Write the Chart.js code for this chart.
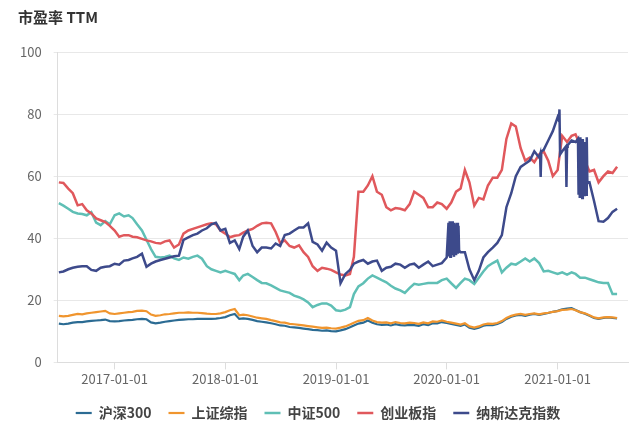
<!DOCTYPE html>
<html lang="zh">
<head>
    <meta charset="UTF-8">
    <title>市盈率 TTM</title>
    <script src="https://cdn.jsdelivr.net/npm/chart.js"></script>
    <style>
        body {
            margin: 0;
            background-color: #fff;
            font-family: "Noto Sans CJK SC", "Noto Sans", sans-serif;
        }
        #wrap {
            position: relative;
            width: 640px;
            height: 433px;
        }
        #title {
            position: absolute;
            left: 18px;
            top: 6px;
            font-size: 15px;
            font-weight: bold;
            color: #333;
        }
        canvas {
            position: absolute;
            left: 0;
            top: 0;
        }
    </style>
</head>
<body>
<div id="wrap">
    <canvas id="peChart" width="640" height="433"></canvas>
    <div id="title">市盈率 TTM</div>
</div>

<script>
// semi-monthly sampling points, 2016-07-01 ... 2021-07-16 (1st and 16th of each month)
var dates = [];
for (var i = 0; i < 122; i++) {
    var m = 6 + Math.floor(i / 2);
    dates.push(Date.UTC(2016 + Math.floor(m / 12), m % 12, i % 2 ? 16 : 1));
}

var labels = ['沪深300', '上证综指', '中证500', '创业板指', '纳斯达克指数'];
var colors = ['#2b6b93', '#f0952e', '#5fbfb5', '#e0585c', '#3d4a8b'];

var hs300 = [
    12.5, 12.3, 12.5, 12.8, 13, 13, 13.2, 13.4, 13.5, 13.6, 13.8, 13.3,
    13.2, 13.3, 13.5, 13.6, 13.7, 13.9, 14, 13.9, 12.9, 12.6, 12.8, 13.1,
    13.3, 13.5, 13.7, 13.8, 13.9, 13.9, 14, 14, 14, 14, 14.1, 14.3,
    14.6, 15.2, 15.6, 14, 14.2, 14, 13.7, 13.3, 13.1, 12.9, 12.6, 12.3,
    11.9, 11.8, 11.4, 11.3, 11.1, 10.9, 10.7, 10.5, 10.4, 10.2, 10.3, 10.1,
    10, 10.3, 10.7, 11.3, 11.9, 12.5, 12.8, 13.5, 12.8, 12.3, 12.1, 12.2,
    11.9, 12.3, 12, 11.9, 12.1, 12, 11.8, 12.3, 12, 12.6, 12.6, 13,
    12.7, 12.4, 12.1, 11.8, 12.2, 11.2, 10.8, 11.2, 11.8, 12.1, 12, 12.4,
    13, 14, 14.7, 15.1, 15.3, 15, 15.4, 15.6, 15.3, 15.6, 15.9, 16.3,
    16.6, 17.1, 17.3, 17.5, 16.9, 16.2, 15.7, 15, 14.3, 14, 14.3, 14.5,
    14.3, 14.2
];

var shComp = [
    15, 14.8, 15, 15.3, 15.6, 15.5, 15.8, 16, 16.2, 16.4, 16.6, 15.8,
    15.6, 15.8, 16, 16.2, 16.3, 16.6, 16.7, 16.5, 15.4, 15, 15.2, 15.5,
    15.6, 15.8, 16, 16, 16.1, 16, 16, 15.9, 15.7, 15.6, 15.6, 15.8,
    16.2, 16.8, 17.2, 15.2, 15.4, 15.2, 14.8, 14.4, 14.2, 14, 13.6, 13.3,
    12.9, 12.8, 12.4, 12.3, 12.1, 11.9, 11.7, 11.5, 11.3, 11.1, 11.2, 11,
    10.9, 11.2, 11.6, 12.2, 12.8, 13.4, 13.6, 14.3, 13.5, 13, 12.8, 12.9,
    12.6, 13, 12.7, 12.6, 12.8, 12.7, 12.4, 12.9, 12.6, 13.2, 13.1, 13.5,
    13.1, 12.8, 12.5, 12.2, 12.6, 11.6, 11.2, 11.6, 12.2, 12.5, 12.4, 12.7,
    13.3, 14.3, 15, 15.4, 15.6, 15.3, 15.6, 15.8, 15.5, 15.8, 16, 16.3,
    16.5, 16.9, 17, 17.2, 16.8, 16.2, 15.8, 15.2, 14.5, 14.2, 14.5, 14.6,
    14.5, 14.3
];

var csi500 = [
    51.3, 50.5, 49.5, 48.5, 48, 47.8, 47.4, 48.4, 45, 44.2, 45.5, 44.5,
    47.4, 48, 47, 47.4, 46.5, 44.5, 42.5, 39.5, 36.5, 34, 33.8, 34,
    34.4, 33.5, 33, 33.8, 33.4, 34, 34.4, 33.4, 31, 30, 29.5, 29,
    29.5, 29, 28.5, 26.5, 28, 28.5, 27.5, 26.5, 25.6, 25.5, 24.8, 24,
    23.2, 22.8, 22.4, 21.5, 21, 20.3, 19.3, 17.8, 18.5, 19, 19, 18.3,
    16.8, 16.6, 17, 17.8, 22, 24.5, 25.5, 27, 28, 27.3, 26.5, 25.8,
    24.7, 23.8, 23.2, 22.4, 24, 25.3, 25, 25.3, 25.6, 25.6, 25.6, 26.5,
    27, 25.5, 24, 25.6, 27, 26.5, 25.3, 27.3, 29.3, 31, 32, 32.8,
    29, 30.5, 31.8, 31.5, 32.5, 33.5, 32.5, 33.5, 32, 29.3, 29.5, 29,
    28.5, 29, 28.3, 29, 28.5, 27.3, 27.3, 26.8, 26.3, 25.8, 25.6, 25.6,
    22, 22
];

var chinext = [
    58, 57.8, 56, 54.5, 50.6, 51, 49, 48, 46.4, 45.8, 45.2, 44,
    42.5, 40.5, 41, 41, 40.5, 40.3, 39.8, 39.3, 39, 38.5, 38.3, 39,
    39.3, 37, 38, 41.5, 42.5, 43, 43.5, 44, 44.5, 44.8, 44.5, 42.5,
    41.5, 40.3, 40.8, 41, 41.8, 42.5, 43, 44, 44.8, 45, 44.8, 42,
    38.5, 39.3, 37.5, 37, 37.7, 35.5, 34, 31, 29.5, 30.5, 30.2, 29.8,
    29, 28.3, 28, 28.5, 34, 55, 55, 57, 60, 55, 54, 50,
    49, 49.7, 49.5, 49, 51, 55, 54, 53, 50, 50, 51.5, 51,
    49.5, 51.5, 55, 56, 62, 58, 50.5, 53, 52.5, 57, 59.5, 59.5,
    62, 72, 77, 76, 69, 65, 66, 64.5, 67, 68, 65, 60,
    62, 73, 71, 73, 73.5, 70, 65, 61.5, 62, 58, 60, 61.5,
    61, 63
];

var nasdaq = [
    29, 29.3, 30, 30.5, 30.8, 31, 31, 29.8, 29.5, 30.5, 30.8, 31,
    31.8, 31.5, 32.8, 33, 33.5, 34, 35, 30.8, 31.8, 32.5, 33, 33.4,
    33.8, 34.2, 34.4, 39.5, 40.3, 41, 41.5, 42.5, 43.2, 44.5, 45, 42.5,
    43, 38.5, 39.3, 36.5, 40.5, 42.5, 37.5, 35.5, 37, 37, 36.7, 38.3,
    37.5, 41, 41.5, 42.5, 43.5, 43.5, 44.8, 38.8, 38, 36, 38.6, 37,
    36, 25.5, 28.5, 29.8, 31.8, 32.5, 33, 31.8, 32.5, 32.8, 29.5, 30.5,
    30.8, 31.8, 31.5, 30.5, 31.5, 31.8, 30.5, 31.5, 32.5, 31, 31.5, 32,
    33.8, 45, 34.5, 35.5, 35.5, 30, 26.5, 29.5, 33.8, 35.5, 37, 38.5,
    41, 50, 54.5, 60, 63, 64, 65, 68, 66, 68.5, 71.5, 74.5,
    79, 68, 69.5, 71.5, 71, 62, 60, 58, 52, 45.5, 45.3, 46.5,
    48.5, 49.5
];

// extra daily readings where the nasdaq line swings hard
var nasdaqExtraDates = [
    '2020-01-07', '2020-01-09', '2020-01-11', '2020-01-13', '2020-01-15', '2020-01-17',
    '2020-01-19', '2020-01-21', '2020-01-23', '2020-01-25', '2020-01-27', '2020-01-29',
    '2020-01-31', '2020-02-03', '2020-02-05', '2020-02-07', '2020-02-09', '2020-02-11',
    '2020-11-04', '2020-11-06', '2020-11-08',
    '2021-01-05', '2021-01-07', '2021-01-09', '2021-01-28', '2021-01-30', '2021-02-03',
    '2021-03-09', '2021-03-11', '2021-03-13', '2021-03-15', '2021-03-17', '2021-03-19',
    '2021-03-21', '2021-03-23', '2021-03-25', '2021-03-27', '2021-03-29', '2021-03-31',
    '2021-04-03', '2021-04-05', '2021-04-07', '2021-04-09'
];
var nasdaqExtraValues = [
    45, 34.5, 45.5, 34, 45, 35,
    45.5, 34.5, 44.5, 34, 45, 35,
    44.5, 34.5, 45, 35, 44, 36,
    67, 59.7, 68,
    78, 81.5, 67, 69.5, 56.5, 70,
    72, 54, 71.5, 53, 72.5, 54,
    70, 53, 72, 55, 71, 53.5,
    70.5, 54, 72.5, 57.8
];

var yearTicks = [2017, 2018, 2019, 2020, 2021];

function toPoints(values) {
    return dates.map(function (d, i) { return { x: d, y: values[i] }; });
}

var nasdaqPoints = toPoints(nasdaq).concat(nasdaqExtraDates.map(function (d, i) {
    return { x: Date.parse(d), y: nasdaqExtraValues[i] };
})).sort(function (a, b) { return a.x - b.x; });

var seriesData = [toPoints(hs300), toPoints(shComp), toPoints(csi500), toPoints(chinext), nasdaqPoints];
var drawOrder = [4, 1, 3, 2, 0]; // nasdaq on top

var ctx = document.getElementById('peChart').getContext('2d');
var peChart = new Chart(ctx, {
    type: 'line',
    data: {
        datasets: labels.map(function (name, k) {
            return {
                label: name,
                data: seriesData[k],
                borderColor: colors[k],
                backgroundColor: colors[k],
                borderWidth: k < 2 ? 2.2 : 2.5,
                pointRadius: 0,
                tension: 0,
                order: drawOrder[k]
            };
        })
    },
    options: {
        responsive: false,
        animation: false,
        layout: {
            padding: { top: 52, right: 12, left: 8, bottom: 3 }
        },
        plugins: {
            tooltip: { enabled: false },
            legend: {
                position: 'bottom',
                labels: {
                    usePointStyle: true,
                    pointStyle: 'line',
                    pointStyleWidth: 16,
                    boxHeight: 10,
                    padding: 17,
                    color: '#444',
                    font: { family: '"Noto Sans CJK SC", sans-serif', size: 14, weight: 'bold' },
                    sort: function (a, b) { return a.datasetIndex - b.datasetIndex; }
                }
            }
        },
        scales: {
            x: {
                type: 'linear',
                min: Date.UTC(2016, 5, 27),
                max: Date.UTC(2021, 7, 21),
                afterBuildTicks: function (axis) {
                    axis.ticks = yearTicks.map(function (y) { return { value: Date.UTC(y, 0, 1) }; });
                },
                ticks: {
                    autoSkip: false,
                    maxRotation: 0,
                    padding: 2,
                    color: '#666',
                    font: { family: '"Noto Sans CJK SC", sans-serif', size: 13 },
                    callback: function (v) { return new Date(v).toISOString().slice(0, 10); }
                },
                grid: { drawOnChartArea: false, tickLength: 7, color: '#ddd' },
                border: { color: '#ddd' }
            },
            y: {
                min: 0,
                max: 100,
                ticks: {
                    stepSize: 20,
                    padding: 12,
                    color: '#666',
                    font: { family: '"Noto Sans CJK SC", sans-serif', size: 13 }
                },
                grid: { color: '#e8e8e8', tickLength: 4 },
                border: { color: '#ddd' }
            }
        }
    }
});
</script>
</body>
</html>
